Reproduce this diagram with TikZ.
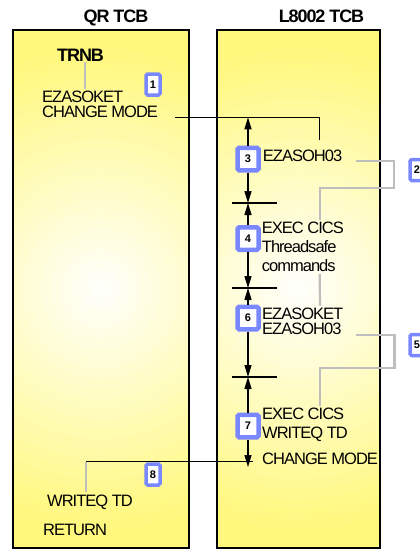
\documentclass[tikz,border=0pt]{standalone}
\usepackage{fontspec}
\setmainfont{Liberation Sans}[LetterSpace=-6]
\usetikzlibrary{arrows.meta, positioning, calc}
\definecolor{tcbyellow}{RGB}{255,248,125}
\definecolor{numblue}{RGB}{122,136,255}
\definecolor{linkgray}{RGB}{190,190,190}

\begin{document}
\begin{tikzpicture}[
        x=1pt, y=-1pt,
        >={Triangle[length=12pt, width=7pt]},
        tcb/.style={draw=black, line width=1.6pt, inner sep=0pt,
            path picture={
                \foreach \rad [evaluate=\rad as \pct using {min(100,\rad/2.45)}] in {290,280,...,10}
                    \fill[tcbyellow!\pct!white] (path picture bounding box.center) circle (\rad pt);
            }},
        title/.style={font=\fontsize{18}{18}\selectfont\bfseries, anchor=north, inner sep=0pt},
        txt/.style={font=\fontsize{16.5}{15.5}\selectfont, anchor=north west, align=left, inner sep=0pt},
        wide/.style={font=\fontsize{16.5}{19}\selectfont},
        bignum/.style={draw=numblue, line width=4.5pt, fill=white, rounded corners=1.5pt, minimum width=21pt, minimum height=22.5pt, inner sep=0pt, font=\fontsize{11}{11}\selectfont\bfseries},
        smallnum/.style={bignum, line width=3.5pt, minimum width=14pt, minimum height=21pt},
        wire/.style={black, line width=1.3pt},
        flow/.style={->, black, line width=1.3pt},
        link/.style={linkgray, line width=2.2pt}
    ]
        \useasboundingbox (0,0) rectangle (420,550);
        \clip (0,0) rectangle (420,550);

        % The two TCBs
        \node[tcb, minimum width=176pt, minimum height=518pt] (qrbox) at (100.75,289) {};
        \node[tcb, minimum width=163pt, minimum height=518pt] (l8box) at (298.5,289) {};
        \node[title] (qrtitle) at (116,10) {QR TCB};
        \node[title] (l8title) at (321.5,10) {L8002 TCB};

        % Texts
        \node[title, anchor=north west] (trnb) at (57,49.3) {TRNB};
        \node[txt] (t1) at (42,90.7) {EZASOKET\\CHANGE MODE};
        \node[txt] (t3) at (262.7,149.3) {EZASOH03};
        \node[txt, wide] (t4) at (261.7,221.7) {EXEC CICS\\Threadsafe\\commands};
        \node[txt] (t6) at (262,307.7) {EZASOKET\\EZASOH03};
        \node[txt, font=\fontsize{16.5}{18.3}\selectfont] (t7) at (262,408) {EXEC CICS\\WRITEQ TD};
        \node[txt] (t8) at (262,452.7) {CHANGE MODE};
        \node[txt] (wtd) at (47,495) {WRITEQ TD};
        \node[txt] (ret) at (43,524.3) {RETURN};

        % Step numbers
        \node[smallnum] (b1) at (153,84.5) {1};
        \node[smallnum] (b2) at (417,170) {2};
        \node[bignum] (b3) at (248,159) {3};
        \node[bignum] (b4) at (248,238.5) {4};
        \node[smallnum] (b5) at (417,345) {5};
        \node[bignum] (b6) at (248,318) {6};
        \node[bignum] (b7) at (248,426) {7};
        \node[smallnum] (b8) at (153,474.5) {8};

        % Switch points on the L8002 line
        \foreach \y [count=\k] in {203,288,377,467}
            \coordinate (k\k) at (248,\y);
        \foreach \k in {1,2,3}
            \draw[wire] ([xshift=-16pt]k\k) -- ([xshift=29pt]k\k);

        % Change mode to the L8002 TCB
        \draw[wire] ([xshift=17pt,yshift=1pt]t1.south east) coordinate (cm) -| ([xshift=57pt,yshift=9pt]t3.north west);
        \draw[flow] (b3) -- (b3 |- cm);
        \foreach \a/\b in {b3/k1, b4/k1, b4/k2, b6/k2, b6/k3, b7/k3, b7/k4}
            \draw[flow] (\a) -- (\b);

        % Back to the QR TCB
        \coordinate (g8) at ([xshift=-4pt,yshift=3pt]wtd.north);
        \draw[wire] ([xshift=-9pt,yshift=3pt]t8.south west) coordinate (c8) -- (c8 -| g8) coordinate (c8l);
        \draw[link] (c8l) -- (g8);

        % Grey links
        \coordinate (g1) at ([xshift=4.5pt]trnb.south);
        \draw[link, shorten >=2pt] (g1) -- (g1 |- t1.north);
        \draw[link] ([xshift=14pt]t3.south east) -| ++(38,27) -| ([xshift=58pt,yshift=2pt]t4.north west);
        \draw[link] ([xshift=58pt,yshift=-2pt]t4.south west) -- ([xshift=58pt,yshift=2pt]t6.north west);
        \draw[link] ([xshift=13pt]t6.south east) -| ++(38,33) -| ([xshift=58pt,yshift=2pt]t7.north west);

    \end{tikzpicture}
\end{document}
